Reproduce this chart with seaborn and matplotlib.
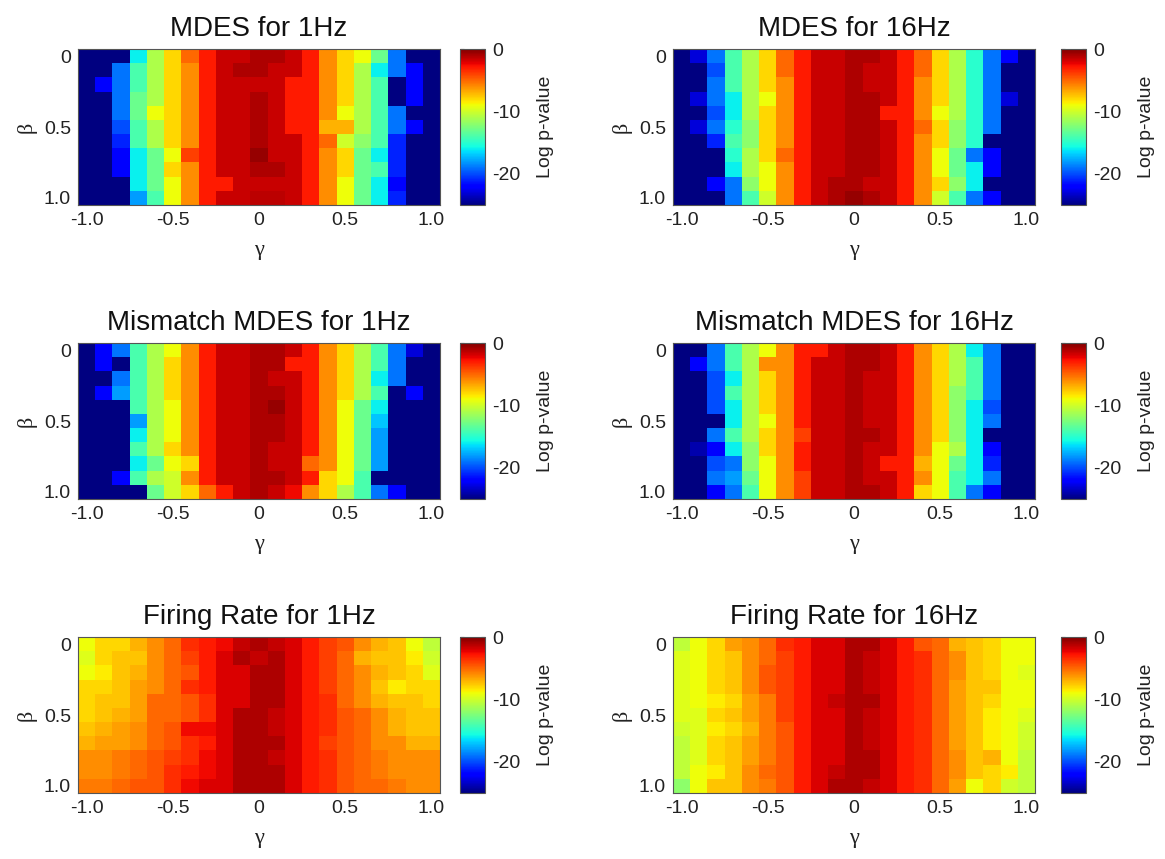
import numpy as np
import pandas as pd
import matplotlib
matplotlib.use("Agg")
import matplotlib.pyplot as plt
import seaborn as sns

# ---------------- data ----------------
gamma = [-1.0, -0.9, -0.8, -0.7, -0.6, -0.5, -0.4, -0.3, -0.2, -0.1, 0.0,
         0.1, 0.2, 0.3, 0.4, 0.5, 0.6, 0.7, 0.8, 0.9, 1.0]
beta = [0.0, 0.1, 0.2, 0.3, 0.4, 0.5, 0.6, 0.7, 0.8, 0.9, 1.0]

xtick_values = [-1.0, -0.5, 0.0, 0.5, 1.0]
xtick_labels = ["-1.0", "-0.5", "0", "0.5", "1.0"]
ytick_values = [0.0, 0.5, 1.0]
ytick_labels = ["0", "0.5", "1.0"]
cbar_ticks = [0, -10, -20]
cbar_tick_labels = ["0", "-10", "-20"]

titles = ["MDES for 1Hz", "MDES for 16Hz",
          "Mismatch MDES for 1Hz", "Mismatch MDES for 16Hz",
          "Firing Rate for 1Hz", "Firing Rate for 16Hz"]

mdes_1hz = [
    [-25,-25,-25,-16,-11,-8,-5,-3,-1.6,-1.6,-1,-1,-1.6,-3,-6,-8,-9,-13,-19,-25,-25],
    [-25,-25,-19,-14,-11,-8,-6,-3,-1.6,-1,-1,-1.6,-1.6,-3,-6,-8,-11,-16,-19,-22,-25],
    [-25,-22,-19,-14,-11,-8,-6,-3,-1.6,-1.6,-1.6,-1.6,-3,-3,-6,-8,-11,-14,-25,-22,-25],
    [-25,-25,-19,-13,-11,-8,-6,-3,-1.6,-1.6,-1,-1.6,-3,-3,-6,-8,-11,-14,-25,-22,-25],
    [-25,-25,-19,-13,-9,-8,-6,-3,-1.6,-1.6,-1,-1.6,-3,-3,-6,-9,-11,-14,-19,-25,-25],
    [-25,-25,-20,-14,-11,-8,-6,-3,-1.6,-1.6,-1,-1.6,-3,-3,-7,-7,-11,-14,-19,-22,-25],
    [-25,-25,-21,-14,-11,-8,-6,-3,-1.6,-1.6,-1,-1.6,-1.6,-3,-5,-10,-12,-14,-21,-25,-25],
    [-25,-25,-22,-16,-13,-9,-4,-3,-1.6,-1.6,-0.5,-1.6,-1.6,-3,-6,-8,-13,-16,-21,-25,-25],
    [-25,-25,-22,-16,-13,-8,-6,-3,-1.6,-1.6,-1,-1,-1.6,-3,-6,-8,-13,-14,-21,-25,-25],
    [-25,-25,-25,-16,-13,-9,-6,-3,-3,-1.6,-1.6,-1.6,-1.6,-3,-6,-9,-13,-16,-22,-25,-25],
    [-25,-25,-25,-18,-14,-9,-6,-3,-1.6,-1.6,-1.3,-1.3,-1.6,-3,-6,-9,-13,-16,-21,-25,-25],
]

mdes_16hz = [
    [-25,-23,-19,-14,-11,-8,-5,-3,-1.6,-1.6,-1,-1,-1.6,-3,-5,-8,-11,-15,-19,-22,-25],
    [-25,-25,-20,-14,-11,-8,-5,-3,-1.6,-1.6,-1,-1.6,-1.6,-3,-5,-8,-11,-15,-19,-25,-25],
    [-25,-25,-19,-14,-11,-8,-6,-3,-1.6,-1.6,-1,-1.6,-1.6,-3,-6,-8,-11,-15,-19,-25,-25],
    [-25,-23,-19,-16,-11,-9,-6,-3,-1.6,-1.6,-1,-1,-1.6,-3,-6,-8,-11,-15,-19,-23,-25],
    [-25,-25,-20,-16,-11,-8,-6,-3,-1.6,-1.6,-1,-1,-3,-3,-6,-9,-11,-15,-19,-25,-25],
    [-25,-23,-19,-15,-12,-8,-6,-3,-1.6,-1.6,-1,-1,-1.6,-3,-5,-8,-12,-15,-19,-25,-25],
    [-25,-25,-21,-14,-12,-8,-6,-3,-1.6,-1.6,-1,-1,-1.6,-3,-6,-8,-12,-15,-25,-25,-25],
    [-25,-25,-25,-15,-11,-8,-5,-3,-1.6,-1.6,-1,-1,-1.6,-3,-6,-9,-13,-19,-22,-25,-25],
    [-25,-25,-25,-16,-11,-9,-6,-3,-1.6,-1.6,-1,-1,-1.6,-3,-6,-9,-13,-16,-22,-25,-25],
    [-25,-25,-22,-19,-12,-9,-6,-3,-1.6,-1,-1,-1.6,-1.6,-3,-6,-8,-12,-16,-25,-25,-25],
    [-25,-25,-25,-19,-14,-10,-6,-3,-1.6,-1,-0.5,-1,-1.6,-3,-6,-10,-14,-19,-22,-25,-25],
]

mismatch_1hz = [
    [-25,-22,-19,-14,-11,-9,-6,-3,-1.6,-1.6,-1,-1,-1.6,-3,-6,-8,-11,-14,-19,-23,-25],
    [-25,-22,-25,-14,-11,-8,-6,-3,-1.6,-1.6,-1,-1,-3,-3,-6,-8,-11,-14,-19,-25,-25],
    [-25,-25,-19,-14,-11,-8,-6,-3,-1.6,-1.6,-1,-1.6,-1.6,-3,-6,-8,-11,-16,-19,-25,-25],
    [-25,-22,-18,-14,-11,-8,-6,-3,-1.6,-1.6,-1,-1,-1.6,-3,-6,-8,-11,-14,-25,-22,-25],
    [-25,-25,-25,-14,-11,-9,-6,-3,-1.6,-1.6,-1,-0.5,-1.6,-3,-6,-9,-13,-16,-25,-25,-25],
    [-25,-25,-25,-18,-11,-9,-6,-3,-1.6,-1.6,-1,-1,-1.6,-3,-6,-9,-13,-17,-25,-25,-25],
    [-25,-25,-25,-16,-11,-9,-6,-3,-1.6,-1.6,-1,-1,-1.6,-3,-6,-9,-13,-18,-25,-25,-25],
    [-25,-25,-25,-14,-11,-8,-6,-3,-1.6,-1.6,-1,-1.6,-1.6,-3,-6,-9,-13,-18,-25,-25,-25],
    [-25,-25,-25,-16,-13,-9,-8,-3,-1.6,-1.6,-1,-1.6,-1.6,-5,-6,-9,-13,-18,-25,-25,-25],
    [-25,-25,-22,-14,-11,-10,-6,-3,-1.6,-1.6,-1,-1,-1.6,-3,-8,-9,-14,-25,-25,-25,-25],
    [-25,-25,-25,-25,-13,-10,-8,-5,-3,-1.6,-1,-1.6,-2.5,-6,-8,-11,-14,-19,-22,-25,-25],
]

mismatch_16hz = [
    [-25,-25,-19,-14,-11,-9,-6,-3,-3,-1.6,-1,-1,-1.6,-3,-6,-8,-11,-16,-19,-25,-25],
    [-25,-22,-19,-14,-11,-6,-6,-3,-1.6,-1.6,-1,-1,-1.6,-3,-6,-8,-11,-14,-19,-25,-25],
    [-25,-25,-20,-16,-11,-8,-6,-3,-1.6,-1.6,-1,-1.6,-1.6,-3,-6,-8,-11,-14,-19,-25,-25],
    [-25,-25,-20,-14,-11,-8,-6,-3,-1.6,-1.6,-1,-1.6,-1.6,-3,-6,-8,-12,-14,-19,-25,-25],
    [-25,-25,-20,-16,-11,-8,-6,-3,-1.6,-1.6,-1,-1.6,-1.6,-3,-6,-8,-12,-16,-20,-25,-25],
    [-25,-25,-25,-16,-11,-9,-6,-3,-1.6,-1.6,-1,-1.6,-1.6,-3,-6,-8,-12,-16,-19,-25,-25],
    [-25,-25,-19,-14,-11,-8,-6,-4,-1.6,-1.6,-1,-1,-1.6,-3,-6,-8,-12,-16,-25,-25,-25],
    [-25,-24,-22,-16,-12,-8,-6,-3,-1.6,-1.6,-1,-1.6,-1.6,-3,-6,-9,-11,-16,-22,-25,-25],
    [-25,-25,-20,-19,-12,-9,-6,-3,-1.6,-1.6,-1,-1.6,-3,-3,-7,-9,-13,-16,-21,-25,-25],
    [-25,-25,-19,-18,-13,-9,-6,-4,-1.6,-1.6,-1,-1.6,-1.6,-3,-6,-9,-14,-16,-19,-25,-25],
    [-25,-25,-22,-19,-14,-9,-6,-4,-1.6,-1.6,-1,-1,-1.6,-3,-8,-9,-14,-19,-22,-25,-25],
]

firing_1hz = [
    [-9,-8,-8,-7,-6,-5,-3.5,-3,-2.5,-1.5,-1,-1.5,-2,-3,-4,-4.5,-6,-7,-7.5,-9,-10.5],
    [-9.5,-8,-7.5,-7.5,-6,-5,-4,-3,-2,-1,-1.5,-1,-2,-3,-4,-5,-7,-7.5,-7.5,-8.5,-10],
    [-9,-8.5,-7.5,-7,-6,-5,-4.5,-3,-2,-2,-1,-1,-2,-3,-4,-5,-6,-7,-7.5,-8,-9.5],
    [-8,-8,-7.5,-6.5,-6,-5,-3.5,-3,-2,-2,-1,-1,-2,-3,-4,-5,-6,-7.5,-8.5,-8,-8],
    [-8,-7.5,-7.5,-6.5,-5,-5,-4.5,-3.5,-2,-2,-1,-1,-2,-3,-3.5,-5,-6,-7,-7.5,-7.5,-8],
    [-8,-7.5,-7,-6.5,-5,-5,-4.5,-3.5,-2,-1,-1,-1.5,-2,-3,-3.5,-4.5,-5,-6,-7,-7.5,-7.5],
    [-7.5,-7,-6.5,-6,-5,-4.5,-2.5,-2.5,-2,-1,-1,-1.5,-2,-3,-3.5,-4.5,-5,-6,-7,-7.5,-7.5],
    [-7,-6.5,-6.5,-6,-5,-4.5,-3.5,-3,-2,-1,-1,-1,-2,-3,-4,-4.5,-5,-6,-6,-7,-7],
    [-6,-6,-5.5,-5,-4.5,-4,-3.5,-2.5,-2,-1,-1,-1.5,-2,-3,-3.5,-4.5,-5,-5.5,-6,-6,-6],
    [-6,-6,-5.5,-5,-4.5,-3.5,-3,-2.5,-2,-1,-1,-1,-2,-3,-3.5,-4.5,-5,-5.5,-6,-6,-6],
    [-5.5,-5.5,-5,-4.5,-4.5,-3.5,-2.5,-2,-2,-1,-1,-1,-2,-3,-3.5,-4.5,-5,-5,-5.5,-6,-6],
]

firing_16hz = [
    [-10.5,-9,-8,-6.5,-6,-5,-3.5,-3,-2,-2,-1,-1,-2,-3,-4.5,-5,-7,-7.5,-8,-9,-9],
    [-9.5,-9,-8,-7.5,-6,-5,-4,-3,-2,-2,-1,-1.5,-2,-3,-3.5,-5,-6,-7.5,-8,-9,-9],
    [-9.5,-9,-8,-7.5,-6,-4.5,-4,-3,-2,-2,-1,-1.5,-2,-3,-3.5,-5,-6,-7.5,-8,-9,-9.5],
    [-9.5,-9,-8,-7.5,-6,-4.5,-4,-3,-2,-2,-1,-1.5,-2,-3,-3.5,-5,-6.5,-7.5,-7.5,-9,-9],
    [-9.5,-9,-8.5,-8,-6.5,-5.5,-4,-3,-2,-1.5,-1,-1,-2,-3,-3.5,-5,-6.5,-7.5,-8,-9,-9],
    [-9.5,-9.5,-8,-7.5,-6.5,-5.5,-4,-3,-2,-2,-1,-1.5,-2,-3,-3.5,-5,-6.5,-7.5,-8.5,-9,-9.5],
    [-10,-9.5,-8.5,-8,-7,-5.5,-4.5,-3,-2,-2,-1,-1.5,-2,-3,-3.5,-5,-6.5,-7.5,-8.5,-9,-10],
    [-10.5,-9.5,-8,-7.5,-6.5,-5.5,-4.5,-3,-2,-2,-1,-1.5,-2,-3,-3.5,-5,-6.5,-7.5,-8.5,-9,-10],
    [-10.5,-9.5,-8,-7.5,-6.5,-5.5,-4.5,-3,-2,-2,-1,-1,-2,-3,-3.5,-5,-6,-7.5,-7,-9,-10.5],
    [-10.5,-9,-8.5,-7.5,-6,-5,-4.5,-3,-2,-1.5,-1,-1,-2,-3,-3.5,-5,-6,-7.5,-8,-8.5,-10.5],
    [-12,-9,-7.5,-7.5,-6,-5.5,-4.5,-3,-2,-1,-1,-1.5,-2,-3,-3.5,-5,-6.5,-9,-8,-10,-10.5],
]

panels = [mdes_1hz, mdes_16hz, mismatch_1hz, mismatch_16hz, firing_1hz, firing_16hz]

# ---------------- style ----------------
sns.set_theme(style="white")
plt.rcParams["font.family"] = ["Liberation Sans", "DejaVu Sans"]
plt.rcParams["axes.unicode_minus"] = False

W, H = 1165, 859
fig = plt.figure(figsize=(W / 100, H / 100), dpi=100)

ax_lefts = [78, 673]
cb_lefts = [460, 1061]
tops = [49, 343, 637]
ax_w, ax_h, cb_w = 362, 156, 25

xpos = [gamma.index(v) + 0.5 for v in xtick_values]
ypos = [beta.index(v) + 0.5 for v in ytick_values]

serif = ["Liberation Serif", "DejaVu Serif"]

for i, (data, title) in enumerate(zip(panels, titles)):
    r, c = divmod(i, 2)
    top = tops[r]
    ax = fig.add_axes([ax_lefts[c] / W, 1 - (top + ax_h) / H, ax_w / W, ax_h / H])
    cax = fig.add_axes([cb_lefts[c] / W, 1 - (top + ax_h) / H, cb_w / W, ax_h / H])
    df = pd.DataFrame(data, index=beta, columns=gamma)
    sns.heatmap(df, ax=ax, cmap="jet", vmin=-25, vmax=0, cbar_ax=cax,
                xticklabels=False, yticklabels=False)
    for s in ax.spines.values():
        s.set_visible(True)
        s.set_color("#555555")
        s.set_linewidth(0.8)
    ax.set_xticks(xpos)
    ax.set_xticklabels(xtick_labels)
    ax.set_yticks(ypos)
    ax.set_yticklabels(ytick_labels, rotation=0)
    ax.tick_params(direction="in", length=3, width=0.8, top=True, right=True,
                   bottom=True, left=True, labelsize=14, colors="#222222",
                   pad=5)
    ax.set_title(title, fontsize=20, pad=9, color="#111111")
    ax.set_xlabel("γ", fontsize=16, family=serif, labelpad=9, color="#222222")
    ax.set_ylabel("β", fontsize=16, family=serif, labelpad=5, color="#222222")

    cb = ax.collections[0].colorbar
    cb.outline.set_linewidth(0.8)
    cb.outline.set_edgecolor("#555555")
    cb.set_ticks(cbar_ticks)
    cb.set_ticklabels(cbar_tick_labels)
    cax.tick_params(direction="in", length=3, width=0.8, left=True, right=True,
                    labelsize=14, colors="#222222", pad=5)
    cb.set_label("Log p-value", fontsize=14, labelpad=12, color="#222222")

fig.savefig("out.png", dpi=100)
